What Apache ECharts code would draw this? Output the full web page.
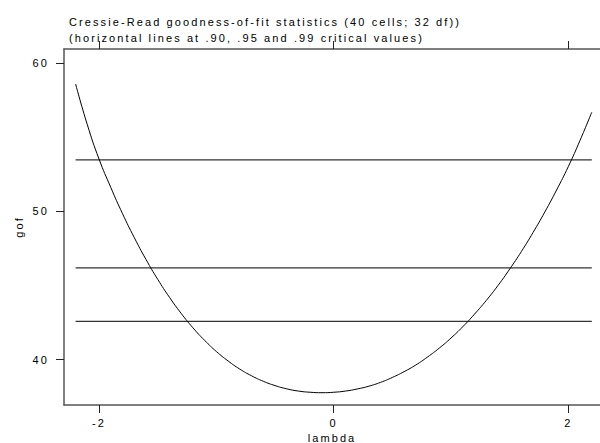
<!DOCTYPE html>
<html><head><meta charset="utf-8">
<script src="https://cdn.jsdelivr.net/npm/echarts@6/dist/echarts.min.js"></script>
<style>html,body{margin:0;padding:0;background:#fff}#c{width:600px;height:443px;letter-spacing:2.1px}</style>
</head><body><div id="c"></div>
<script>
var lambdas = [-2.2,-2.1,-2.0,-1.9,-1.8,-1.7,-1.6,-1.5,-1.4,-1.3,-1.2,-1.1,-1.0,-0.9,-0.8,-0.7,-0.6,-0.5,-0.4,-0.3,-0.2,-0.1,0,0.1,0.2,0.3,0.4,0.5,0.6,0.7,0.8,0.9,1.0,1.1,1.2,1.3,1.4,1.5,1.6,1.7,1.8,1.9,2.0,2.1,2.2];
var gof = [58.6,55.85,53.53,51.62,49.85,48.24,46.76,45.42,44.21,43.12,42.15,41.30,40.55,39.91,39.36,38.91,38.54,38.25,38.03,37.88,37.80,37.77,37.80,37.88,38.02,38.21,38.47,38.80,39.19,39.64,40.18,40.78,41.46,42.22,43.07,43.99,45.00,46.11,47.30,48.59,49.97,51.45,53.03,54.8,56.7];
var criticalValues = [42.585, 46.194, 53.486];
var critRange = [-2.2, 2.2];
var xTicks = [-2, 0, 2];
var yTicks = [40, 50, 60];
var titleLines = ['Cressie-Read goodness-of-fit statistics (40 cells; 32 df))', '(horizontal lines at .90, .95 and .99 critical values)'];

var FONT = 'Liberation Sans';
var FS = 11;
var axisCol = '#555';
var series = [{
  type: 'line', data: lambdas.map(function(l,i){return [l, gof[i]];}),
  smooth: true, showSymbol: false, lineStyle: {color: '#000', width: 1}, z: 3
}];
criticalValues.forEach(function(v){
  series.push({type:'line', data: critRange.map(function(l){return [l, v];}), showSymbol:false,
    lineStyle:{color:'#333', width:1.3}, z:2});
});
var chart = echarts.init(document.getElementById('c'), null, {renderer:'svg'});
chart.setOption({
  animation: false,
  title: {text: titleLines.join('\n'), left: 64, top: 9,
    textStyle: {fontFamily: FONT, fontSize: FS, fontWeight: 'normal', color: '#000', lineHeight: 16}},
  grid: {left: 64, right: 0, top: 49, bottom: 38, outerBoundsMode: 'none', containLabel: false},
  xAxis: [{
    type: 'value', min: -2.299, max: 2.27, position: 'bottom',
    name: 'lambda', nameLocation: 'middle', nameGap: 25,
    nameTextStyle: {fontFamily: FONT, fontSize: FS, color: '#000'},
    axisLine: {show: true, onZero: false, lineStyle: {color: axisCol, width: 1.5}},
    axisTick: {show: true, length: 8, inside: false, customValues: xTicks, lineStyle:{color:'#222'}},
    axisLabel: {show: true, customValues: xTicks, margin: 12, fontFamily: FONT, fontSize: FS, color: '#000'},
    splitLine: {show: false}
  }, {
    type: 'value', min: -2.299, max: 2.27, position: 'top',
    axisLine: {show: true, onZero: false, lineStyle: {color: axisCol, width: 1.5}},
    axisTick: {show: true, length: 8, customValues: xTicks, lineStyle:{color:'#222'}},
    axisLabel: {show: false},
    splitLine: {show: false}
  }],
  yAxis: {
    type: 'value', min: 36.94, max: 60.965,
    name: 'gof', nameLocation: 'middle', nameGap: 40,
    nameTextStyle: {fontFamily: FONT, fontSize: FS, color: '#000'},
    axisLine: {show: true, onZero: false, lineStyle: {color: axisCol, width: 1.5}},
    axisTick: {show: true, length: 8, customValues: yTicks, lineStyle:{color:'#222'}},
    axisLabel: {show: true, customValues: yTicks, margin: 15, fontFamily: FONT, fontSize: FS, color: '#000'},
    splitLine: {show: false}
  },
  series: series
});
</script></body></html>
